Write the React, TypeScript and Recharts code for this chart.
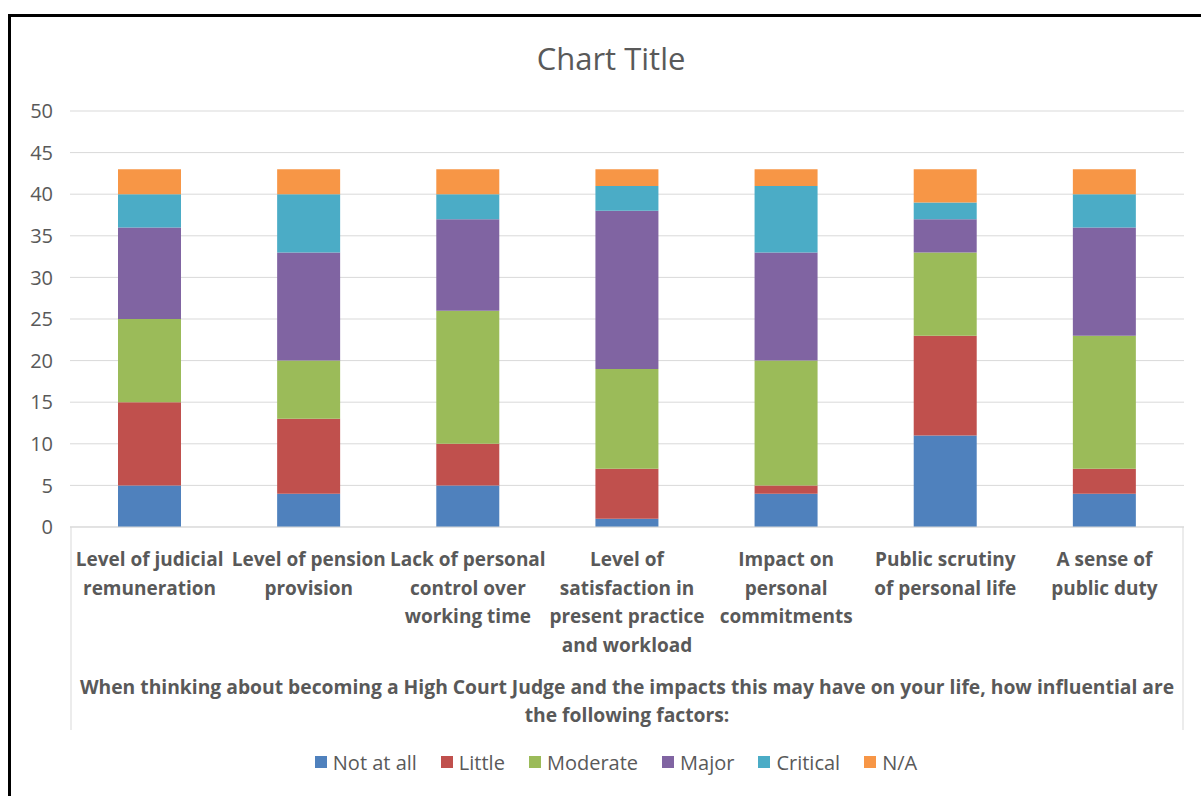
import React from 'react';
import { BarChart, Bar, XAxis, YAxis, CartesianGrid, Legend, Label } from 'recharts';

const categories = [
  'Level of judicial remuneration',
  'Level of pension provision',
  'Lack of personal control over working time',
  'Level of satisfaction in present practice and workload',
  'Impact on personal commitments',
  'Public scrutiny of personal life',
  'A sense of public duty',
];

// how the category names wrap under the bars
const tickLines = [
  ['Level of judicial', 'remuneration'],
  ['Level of pension', 'provision'],
  ['Lack of personal', 'control over', 'working time'],
  ['Level of', 'satisfaction in', 'present practice', 'and workload'],
  ['Impact on', 'personal', 'commitments'],
  ['Public scrutiny', 'of personal life'],
  ['A sense of', 'public duty'],
];

const notAtAll = [5, 4, 5, 1, 4, 11, 4];
const little = [10, 9, 5, 6, 1, 12, 3];
const moderate = [10, 7, 16, 12, 15, 10, 16];
const major = [11, 13, 11, 19, 13, 4, 13];
const critical = [4, 7, 3, 3, 8, 2, 4];
const na = [3, 3, 3, 2, 2, 4, 3];

const yTicks = [0, 5, 10, 15, 20, 25, 30, 35, 40, 45, 50];

const axisTitle = [
  'When thinking about becoming a High Court Judge and the impacts this may have on your life, how influential are',
  'the following factors:',
];

const series = [
  { key: 'notAtAll', name: 'Not at all', color: '#4F81BD', values: notAtAll },
  { key: 'little', name: 'Little', color: '#C0504D', values: little },
  { key: 'moderate', name: 'Moderate', color: '#9BBB59', values: moderate },
  { key: 'major', name: 'Major', color: '#8064A2', values: major },
  { key: 'critical', name: 'Critical', color: '#4BACC6', values: critical },
  { key: 'na', name: 'N/A', color: '#F79646', values: na },
];

const data = categories.map((name, i) => {
  const row: any = { name };
  series.forEach((s) => (row[s.key] = s.values[i]));
  return row;
});

const FONT = '"Open Sans", sans-serif';
const TEXT = '#595959';

const CategoryTick = (props: any) => {
  const { x, y, payload } = props;
  const lines = tickLines[categories.indexOf(payload.value)] || [payload.value];
  return (
    <text x={x} y={y} textAnchor="middle" fill={TEXT} fontSize={19} fontWeight={700} fontFamily={FONT}>
      {lines.map((l, i) => (
        <tspan key={i} x={x} dy={i === 0 ? 31 : 28.5}>
          {l}
        </tspan>
      ))}
    </text>
  );
};

const AxisTitle = (props: any) => {
  const { x, y, width } = props.viewBox;
  const cx = x + width / 2;
  return (
    <g>
      <line x1={x + 1} y1={y} x2={x + 1} y2={y + 203} stroke="#D9D9D9" />
      <line x1={x + width - 1} y1={y} x2={x + width - 1} y2={y + 203} stroke="#D9D9D9" />
      <text x={cx} y={y + 167} textAnchor="middle" fill={TEXT} fontSize={19.3} fontWeight={700} fontFamily={FONT}>
        {axisTitle.map((l, i) => (
          <tspan key={i} x={cx} dy={i === 0 ? 0 : 28}>
            {l}
          </tspan>
        ))}
      </text>
    </g>
  );
};

const LegendContent = () => (
  <div style={{ display: 'flex', justifyContent: 'center', height: 24, alignItems: 'center', fontFamily: FONT, fontSize: 20, color: TEXT, paddingLeft: 62 }}>
    {series.map((s) => (
      <div key={s.key} style={{ display: 'flex', alignItems: 'center', marginRight: 24 }}>
        <span style={{ width: 12, height: 12, background: s.color, marginRight: 6, display: 'inline-block' }} />
        <span>{s.name}</span>
      </div>
    ))}
  </div>
);

export default function App() {
  return (
    <div style={{ position: 'absolute', left: 0, top: 0, width: 1201, height: 796, background: '#fff', overflow: 'hidden' }}>
      <div style={{ position: 'absolute', left: 8, top: 14, width: 1300, height: 900, borderTop: '3px solid #000', borderLeft: '3px solid #000' }} />
      <div style={{ position: 'absolute', top: 37, left: 0, width: 1222, textAlign: 'center', fontFamily: FONT, fontSize: 31, color: TEXT }}>
        Chart Title
      </div>
      <div style={{ position: 'absolute', left: 0, top: 0 }}>
        <BarChart width={1201} height={796} data={data} margin={{ top: 111, right: 17, bottom: 22, left: 10 }}>
          <CartesianGrid vertical={false} stroke="#D9D9D9" />
          <XAxis
            dataKey="name"
            height={223}
            interval={0}
            tickLine={false}
            axisLine={{ stroke: '#D9D9D9' }}
            tick={<CategoryTick />}
          >
            <Label content={AxisTitle} />
          </XAxis>
          <YAxis
            width={60}
            domain={[0, 50]}
            ticks={yTicks}
            axisLine={false}
            tickLine={false}
            tickMargin={11}
            tick={{ fill: TEXT, fontSize: 20, fontFamily: FONT }}
          />
          <Legend verticalAlign="bottom" height={24} content={<LegendContent />} />
          {series.map((s) => (
            <Bar key={s.key} dataKey={s.key} name={s.name} stackId="a" fill={s.color} barSize={63} isAnimationActive={false} />
          ))}
        </BarChart>
      </div>
    </div>
  );
}
